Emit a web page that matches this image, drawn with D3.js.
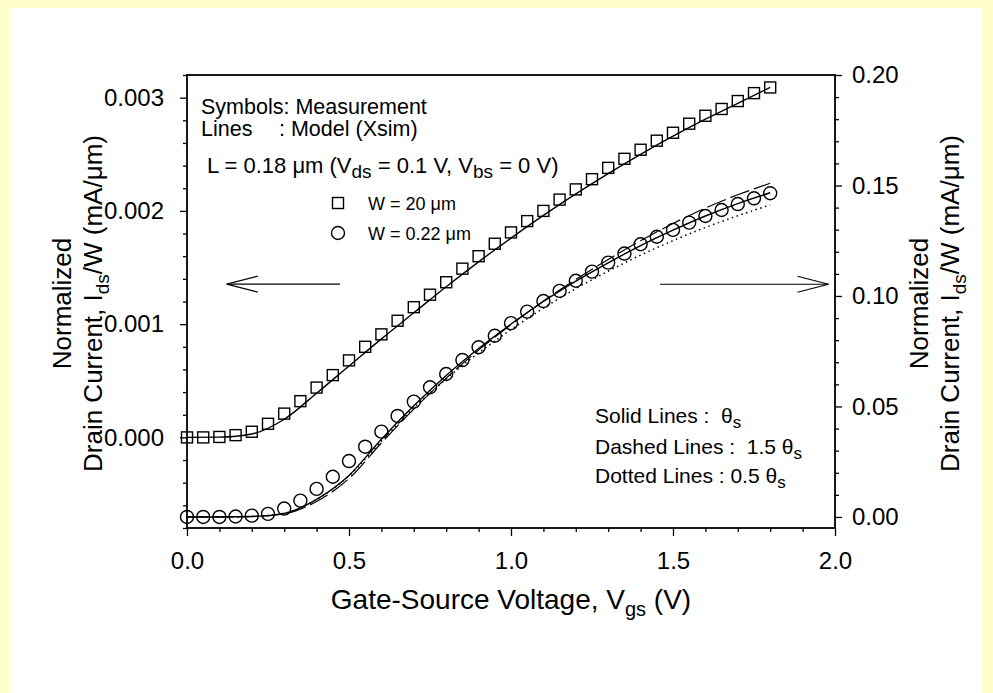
<!DOCTYPE html>
<html>
<head>
<meta charset="utf-8">
<script src="https://cdn.jsdelivr.net/npm/d3@7"></script>
<style>
  html, body { margin: 0; padding: 0; background: #ffffcc; }
  svg { display: block; }
  text { font-family: "Liberation Sans", Arial, sans-serif; fill: #000; white-space: pre; }
</style>
</head>
<body>
<svg id="chart" width="993" height="693"></svg>
<script>
// Gate-source voltage of the measured points (V)
const vgsMeas = [0, 0.05, 0.1, 0.15, 0.2, 0.25, 0.3, 0.35, 0.4, 0.45, 0.5, 0.55, 0.6, 0.65, 0.7, 0.75,
  0.8, 0.85, 0.9, 0.95, 1.0, 1.05, 1.1, 1.15, 1.2, 1.25, 1.3, 1.35, 1.4, 1.45, 1.5, 1.55, 1.6, 1.65,
  1.7, 1.75, 1.8];
// Measured Ids/W (mA/um), W = 20 um -> left axis
const idsWide = [0, 0, 0.000004, 0.00002, 0.00005, 0.00012, 0.00021, 0.00032, 0.00044, 0.00055,
  0.00068, 0.00080, 0.00091, 0.00103, 0.00115, 0.00126, 0.00137, 0.00149, 0.00160, 0.00171,
  0.00181, 0.00191, 0.00200, 0.00210, 0.00219, 0.00228, 0.00238, 0.00246, 0.00254, 0.00262,
  0.00269, 0.00277, 0.00284, 0.00290, 0.00297, 0.00304, 0.00309];
// Measured Ids/W (mA/um), W = 0.22 um -> right axis
const idsNarrow = [0, 0, 0, 0.0002, 0.0006, 0.0014, 0.0038, 0.0074, 0.0127, 0.0182, 0.0253, 0.0318,
  0.0386, 0.0457, 0.0522, 0.0587, 0.0647, 0.0710, 0.0768, 0.0820, 0.0877, 0.0929, 0.0977, 0.1023,
  0.1069, 0.1110, 0.1151, 0.1192, 0.1234, 0.1268, 0.1299, 0.1332, 0.1362, 0.1389, 0.1416, 0.1442,
  0.1465];

// Xsim model curves
const vgsModel = [0, 0.1, 0.2, 0.3, 0.4, 0.5, 0.6, 0.7, 0.8, 0.9, 1.0, 1.1, 1.2, 1.3, 1.4, 1.5, 1.6, 1.7, 1.8];
const modelWide = [0, 0.000002, 0.00003, 0.00016, 0.00039, 0.00063, 0.00087, 0.00110, 0.00133,
  0.00155, 0.00176, 0.00196, 0.00215, 0.00233, 0.00250, 0.00266, 0.00281, 0.00295, 0.00309];
const modelNarrowSolid = [0, 0, 0.0002, 0.0016, 0.0080, 0.0188, 0.0352, 0.0503, 0.0640, 0.0762,
  0.0873, 0.0975, 0.1067, 0.1150, 0.1228, 0.1298, 0.1362, 0.1418, 0.1467];
const modelNarrowDashed = [0, 0, 0.0002, 0.0014, 0.0070, 0.0174, 0.0335, 0.0488, 0.0628, 0.0755,
  0.0870, 0.0977, 0.1075, 0.1165, 0.1250, 0.1328, 0.1398, 0.1458, 0.1510];
const modelNarrowDotted = [0, 0, 0.0002, 0.0016, 0.0079, 0.0186, 0.0343, 0.0493, 0.0625, 0.0742,
  0.0848, 0.0945, 0.1033, 0.1112, 0.1185, 0.1250, 0.1310, 0.1363, 0.1412];

// Axis ticks
const xTicks = [0, 0.5, 1.0, 1.5, 2.0];
const xMinorTicks = [0.1, 0.2, 0.3, 0.4, 0.6, 0.7, 0.8, 0.9, 1.1, 1.2, 1.3, 1.4, 1.6, 1.7, 1.8, 1.9];
const yLeftTicks = [0, 0.001, 0.002, 0.003];
const yLeftMinorTicks = [-0.0008, -0.0006, -0.0004, -0.0002, 0.0002, 0.0004, 0.0006, 0.0008,
  0.0012, 0.0014, 0.0016, 0.0018, 0.0022, 0.0024, 0.0026, 0.0028, 0.0032];
const yRightTicks = [0, 0.05, 0.10, 0.15, 0.20];
const yRightMinorTicks = [0.01, 0.02, 0.03, 0.04, 0.06, 0.07, 0.08, 0.09, 0.11, 0.12, 0.13, 0.14,
  0.16, 0.17, 0.18, 0.19];

const FONT = '"Liberation Sans", Arial, sans-serif';
const svg = d3.select('#chart');

// page background with pale yellow border
svg.append('rect').attr('x', 0).attr('y', 0).attr('width', 993).attr('height', 693).attr('fill', '#ffffcc');
svg.append('rect').attr('x', 11).attr('y', 8).attr('width', 971).attr('height', 685).attr('fill', '#ffffff');

const plot = { left: 187, right: 835, top: 75, bottom: 528 };
const x = d3.scaleLinear().domain([0, 2]).range([plot.left, plot.right]);
const yL = d3.scaleLinear().domain([-0.0008, 0.0032]).range([plot.bottom, plot.top]);
const yR = d3.scaleLinear().domain([-0.005, 0.2]).range([plot.bottom, plot.top]);

function styleAxis(g) {
  g.select('.domain').remove();
  g.selectAll('.tick line').attr('stroke', '#000').attr('stroke-width', 1.3);
  g.selectAll('.tick text').style('font-family', FONT).style('font-size', '24px').attr('fill', '#000');
}

// minor ticks
svg.append('g').attr('transform', `translate(0,${plot.bottom})`)
  .call(d3.axisBottom(x).tickValues(xMinorTicks).tickSize(4).tickFormat(''))
  .call(styleAxis);
svg.append('g').attr('transform', `translate(${plot.left},0)`)
  .call(d3.axisLeft(yL).tickValues(yLeftMinorTicks).tickSize(4).tickFormat(''))
  .call(styleAxis);
svg.append('g').attr('transform', `translate(${plot.right},0)`)
  .call(d3.axisRight(yR).tickValues(yRightMinorTicks).tickSize(4).tickFormat(''))
  .call(styleAxis);

// major ticks with labels
svg.append('g').attr('transform', `translate(0,${plot.bottom})`)
  .call(d3.axisBottom(x).tickValues(xTicks).tickSize(8).tickPadding(16).tickFormat(d3.format('.1f')))
  .call(styleAxis);
svg.append('g').attr('transform', `translate(${plot.left},0)`)
  .call(d3.axisLeft(yL).tickValues(yLeftTicks).tickSize(7).tickPadding(16).tickFormat(d3.format('.3f')))
  .call(styleAxis);
svg.append('g').attr('transform', `translate(${plot.right},0)`)
  .call(d3.axisRight(yR).tickValues(yRightTicks).tickSize(7).tickPadding(10).tickFormat(d3.format('.2f')))
  .call(styleAxis);

// frame
svg.append('rect')
  .attr('x', plot.left).attr('y', plot.top)
  .attr('width', plot.right - plot.left).attr('height', plot.bottom - plot.top)
  .attr('fill', 'none').attr('stroke', '#000').attr('stroke-width', 1.8);

// model lines
const lineL = d3.line().x(d => x(d[0])).y(d => yL(d[1])).curve(d3.curveMonotoneX);
const lineR = d3.line().x(d => x(d[0])).y(d => yR(d[1])).curve(d3.curveMonotoneX);
const zip = (a, b) => a.map((v, i) => [v, b[i]]);

svg.append('path').attr('d', lineL(zip(vgsModel, modelWide)))
  .attr('fill', 'none').attr('stroke', '#000').attr('stroke-width', 1.4);
svg.append('path').attr('d', lineR(zip(vgsModel, modelNarrowSolid)))
  .attr('fill', 'none').attr('stroke', '#000').attr('stroke-width', 1.4);
svg.append('path').attr('d', lineR(zip(vgsModel, modelNarrowDashed)))
  .attr('fill', 'none').attr('stroke', '#000').attr('stroke-width', 1.2).attr('stroke-dasharray', '20,5');
svg.append('path').attr('d', lineR(zip(vgsModel, modelNarrowDotted)))
  .attr('fill', 'none').attr('stroke', '#000').attr('stroke-width', 1.5).attr('stroke-dasharray', '1.5,3.5');

// measured symbols
const SQ = 11;
svg.append('g').selectAll('rect').data(zip(vgsMeas, idsWide)).join('rect')
  .attr('x', d => x(d[0]) - SQ / 2).attr('y', d => yL(d[1]) - SQ / 2)
  .attr('width', SQ).attr('height', SQ)
  .attr('fill', 'none').attr('stroke', '#000').attr('stroke-width', 1.4);
svg.append('g').selectAll('circle').data(zip(vgsMeas, idsNarrow)).join('circle')
  .attr('cx', d => x(d[0])).attr('cy', d => yR(d[1])).attr('r', 6.5)
  .attr('fill', 'none').attr('stroke', '#000').attr('stroke-width', 1.4);

// text with subscripts: parts = [[string, isSub], ...]
function rich(sel, parts, subSize, shift) {
  let down = false;
  parts.forEach(([s, sub]) => {
    const t = sel.append('tspan').text(s);
    if (sub) {
      t.style('font-size', subSize + 'px');
      if (!down) { t.attr('dy', shift); down = true; }
    } else if (down) {
      t.attr('dy', -shift); down = false;
    }
  });
  return sel;
}
function label(xp, yp, size, parts, subSize, shift, anchor) {
  const t = svg.append('text').attr('x', xp).attr('y', yp)
    .style('font-size', size + 'px').attr('text-anchor', anchor || 'start');
  return rich(t, parts, subSize || size * 0.75, shift || size * 0.25);
}

// annotations
label(201, 114, 21.5, [['Symbols: Measurement']]);
label(201, 136, 21.5, [['Lines']]);
label(279, 136, 21.5, [[': Model (Xsim)']]);
label(207, 173, 22, [['L = 0.18 \u03BCm (V'], ['ds', true], [' = 0.1 V, V'], ['bs', true], [' = 0 V)']], 19, 5);

// legend
svg.append('rect').attr('x', 338 - SQ / 2).attr('y', 203 - SQ / 2).attr('width', SQ).attr('height', SQ)
  .attr('fill', 'none').attr('stroke', '#000').attr('stroke-width', 1.4);
svg.append('circle').attr('cx', 338).attr('cy', 233).attr('r', 6.5)
  .attr('fill', 'none').attr('stroke', '#000').attr('stroke-width', 1.4);
label(368, 210, 18, [['W = 20 \u03BCm']]);
label(368, 240, 18, [['W = 0.22 \u03BCm']]);

// line-style key
label(595, 423, 21, [['Solid Lines :  \u03B8'], ['s', true]], 17, 5);
label(595, 454, 21, [['Dashed Lines :  1.5 \u03B8'], ['s', true]], 17, 5);
label(595, 483, 21, [['Dotted Lines : 0.5 \u03B8'], ['s', true]], 17, 5);

// arrows pointing to each axis
function arrow(x1, x2, yp) {
  const dir = Math.sign(x2 - x1);
  svg.append('line').attr('x1', x1).attr('x2', x2).attr('y1', yp).attr('y2', yp)
    .attr('stroke', '#000').attr('stroke-width', 1.2);
  svg.append('polyline')
    .attr('points', `${x2 - dir * 31},${yp - 8} ${x2},${yp} ${x2 - dir * 31},${yp + 8}`)
    .attr('fill', 'none').attr('stroke', '#000').attr('stroke-width', 1.2);
}
arrow(x(0.472), x(0.1225), yL(0.001353));
arrow(x(1.46), x(1.98), yR(0.1053));

// axis titles
label((plot.left + plot.right) / 2, 609, 28, [['Gate-Source Voltage, V'], ['gs', true], [' (V)']], 20, 7, 'middle');

function yTitle(cx, lines) {
  const g = svg.append('g').attr('transform', `translate(${cx},${(plot.top + plot.bottom) / 2 + 2}) rotate(-90)`);
  lines.forEach(([dx, parts]) => {
    const t = g.append('text').attr('x', 0).attr('y', dx).attr('text-anchor', 'middle').style('font-size', '26px');
    rich(t, parts, 19, 7);
  });
}
const titleLines = [[0, [['Normalized']]], [31, [['Drain Current, I'], ['ds', true], ['/W (mA/\u03BCm)']]]];
yTitle(71, titleLines);
yTitle(928, titleLines);
</script>
</body>
</html>
